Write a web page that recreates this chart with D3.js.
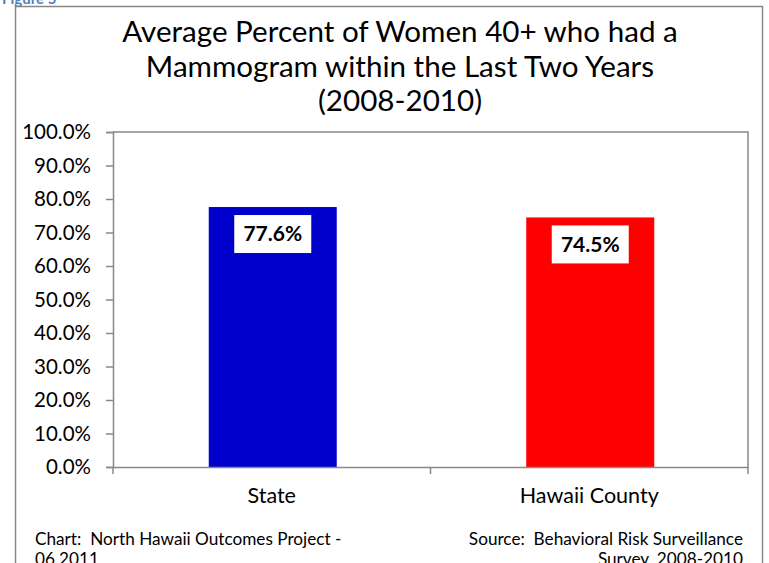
<!DOCTYPE html>
<html><head><meta charset="utf-8">
<script src="https://cdn.jsdelivr.net/npm/d3@7"></script>
<style>body{margin:0;background:#fff}svg{display:block}text{font-family:Lato,"Open Sans",sans-serif}</style>
</head><body><svg id="c" width="769" height="563"></svg>
<script>
const categories = ["State", "Hawaii County"];
const values = [77.6, 74.5];
const colors = ["#0000CC", "#FF0000"];
const yTicks = [0,10,20,30,40,50,60,70,80,90,100];
const titleLines = ["Average Percent of Women 40+ who had a", "Mammogram within the Last Two Years", "(2008-2010)"];
const footLeft = ["Chart:\u00A0 North Hawaii Outcomes Project -", "06.2011"];
const footRight = ["Source:\u00A0 Behavioral Risk Surveillance", "Survey, 2008-2010"];

const svg = d3.select("#c");
const m = {left:113, right:748, top:132, bottom:467};

// figure label (cut off at top)
svg.append("text").attr("x",2).attr("y",4).attr("fill","#4F81BD").attr("font-weight","bold")
  .attr("font-size",15).text("Figure 5");

// outer border
svg.append("rect").attr("x",15.5).attr("y",6.5).attr("width",747).attr("height",600)
  .attr("fill","none").attr("stroke","#888").attr("stroke-width",1.5);

// title
svg.append("g").selectAll("text").data(titleLines).join("text")
  .attr("x",400).attr("y",(d,i)=>42+i*34.5).attr("text-anchor","middle")
  .attr("font-size",29.6).attr("fill","#000").text(d=>d);

const x = d3.scaleBand().domain(categories).range([m.left,m.right]).paddingInner(0).paddingOuter(0);
const y = d3.scaleLinear().domain([0,100]).range([m.bottom,m.top]);

// plot area border (top and right)
svg.append("path").attr("d",`M${m.left},${m.top}H${m.right}V${m.bottom}`)
  .attr("fill","none").attr("stroke","#888").attr("stroke-width",1.5);

// bars
const bw = 128;
svg.append("g").selectAll("rect").data(values).join("rect")
  .attr("x",(d,i)=>x(categories[i])+x.bandwidth()/2-bw/2+1)
  .attr("width",bw)
  .attr("y",d=>y(d)).attr("height",d=>y(0)-y(d))
  .attr("fill",(d,i)=>colors[i]);

// y axis
const yAxis = svg.append("g").attr("transform",`translate(${m.left},0)`)
  .call(d3.axisLeft(y).tickValues(yTicks).tickSize(7).tickPadding(15).tickFormat(d=>d.toFixed(1)+"%"));
yAxis.select(".domain").attr("stroke","#888").attr("stroke-width",1.5);
yAxis.selectAll(".tick line").attr("stroke","#888").attr("stroke-width",1.5);
yAxis.selectAll(".tick text").attr("font-size",20.5).attr("fill","#000").attr("font-family","Lato,'Open Sans',sans-serif");

// x axis
const xAxis = svg.append("g").attr("transform",`translate(0,${m.bottom})`)
  .call(d3.axisBottom(x).tickSize(0).tickPadding(21));
xAxis.select(".domain").attr("stroke","#888").attr("stroke-width",1.5);
xAxis.selectAll(".tick text").attr("font-size",21.5).attr("fill","#000").attr("font-family","Lato,'Open Sans',sans-serif");
// category boundary ticks
const bounds = [m.left, (m.left+m.right)/2, m.right];
svg.append("g").selectAll("line").data(bounds).join("line")
  .attr("x1",d=>d).attr("x2",d=>d).attr("y1",m.bottom).attr("y2",m.bottom+7)
  .attr("stroke","#888").attr("stroke-width",1.5);

// data labels
const lab = svg.append("g").selectAll("g").data(values).join("g")
  .attr("transform",(d,i)=>`translate(${x(categories[i])+x.bandwidth()/2+1},${y(d)+27})`);
lab.append("rect").attr("x",-38.5).attr("y",-19).attr("width",77).attr("height",38).attr("fill","#fff");
lab.append("text").attr("text-anchor","middle").attr("dy","0.35em").attr("font-size",21)
  .attr("font-weight","bold").attr("fill","#000").text(d=>d.toFixed(1)+"%");

// footers
const f1 = svg.append("text").attr("font-size",17.2).attr("fill","#000");
f1.selectAll("tspan").data(footLeft).join("tspan").attr("x",35).attr("y",(d,i)=>545+i*19.5).text(d=>d);
const f2 = svg.append("text").attr("font-size",17.2).attr("fill","#000").attr("text-anchor","end");
f2.selectAll("tspan").data(footRight).join("tspan").attr("x",743).attr("y",(d,i)=>545+i*19.5).text(d=>d);
</script></body></html>
